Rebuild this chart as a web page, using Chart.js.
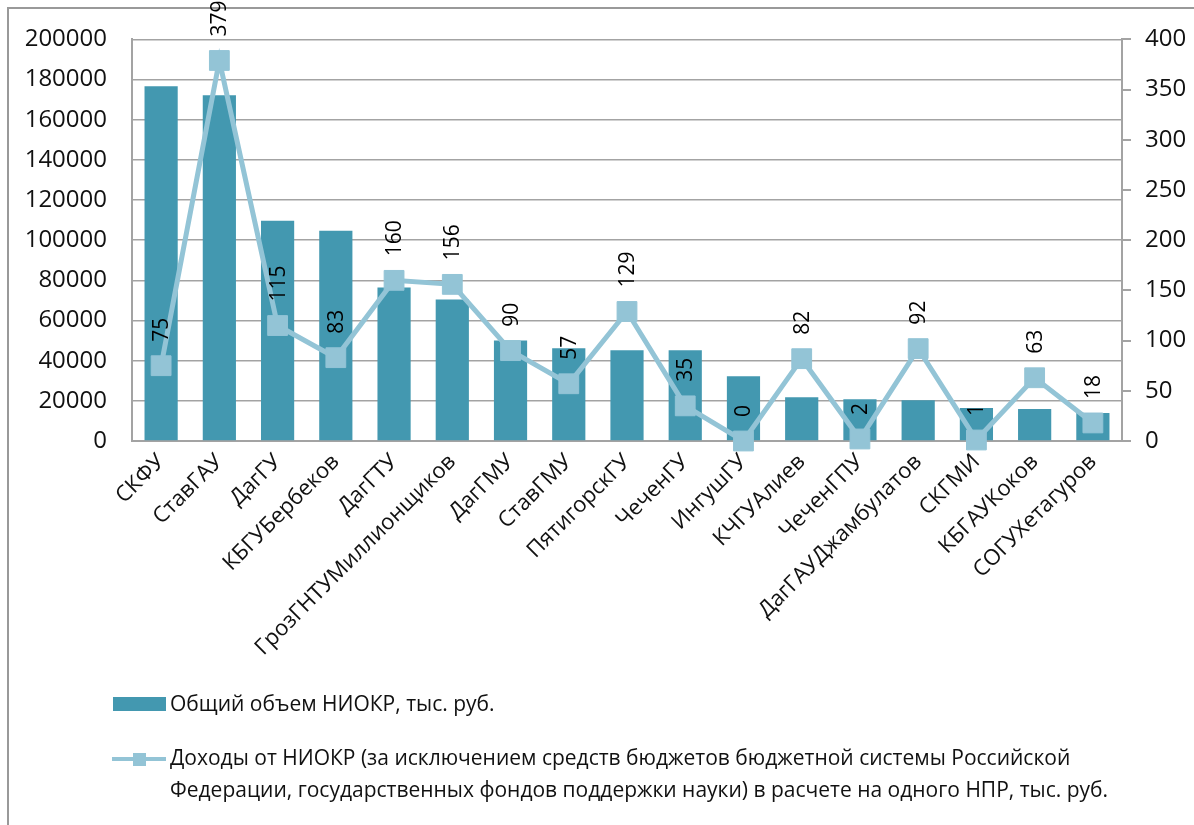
<!DOCTYPE html>
<html><head><meta charset="utf-8">
<script src="https://cdn.jsdelivr.net/npm/chart.js@4"></script>
<style>
html,body{margin:0;padding:0;background:#fff;}
#wrap{position:relative;width:1194px;height:825px;overflow:hidden;}
#frame{position:absolute;left:7px;top:7px;width:1200px;height:900px;border-left:2px solid #999;border-top:2px solid #999;}
#c{position:absolute;left:0;top:0;}
.lg{position:absolute;font-family:'Open Sans';font-size:21px;color:#111;white-space:nowrap;}
</style></head>
<body>
<div id="wrap">
  <div id="frame"></div>
  <canvas id="c" width="1194" height="825"></canvas>
  <div style="position:absolute;left:113px;top:697px;width:53px;height:14px;background:#4398b0;"></div>
  <div class="lg" style="left:170px;top:687px;line-height:32px;">Общий объем НИОКР, тыс. руб.</div>
  <div style="position:absolute;left:112px;top:757px;width:54px;height:4px;background:#93c4d6;"></div>
  <div style="position:absolute;left:133px;top:753px;width:13px;height:13px;background:#93c4d6;"></div>
  <div class="lg" style="left:170px;top:741px;line-height:32px;">Доходы от НИОКР (за исключением средств бюджетов бюджетной системы Российской<br>Федерации, государственных фондов поддержки науки) в расчете на одного НПР, тыс. руб.</div>
</div>
<script>
const categories = ['СКФУ','СтавГАУ','ДагГУ','КБГУБербеков','ДагГТУ','ГрозГНТУМиллионщиков','ДагГМУ','СтавГМУ','ПятигорскГУ','ЧеченГУ','ИнгушГУ','КЧГУАлиев','ЧеченГПУ','ДагГАУДжамбулатов','СКГМИ','КБГАУКоков','СОГУХетагуров'];
const niokrTotal = [176700,172200,109700,104700,76400,70500,50100,46200,45200,45200,32300,21800,20800,20300,16400,15900,13900];
const incomePerNpr = [75,379,115,83,160,156,90,57,129,35,0,82,2,92,1,63,18];
const seriesNames = ['Общий объем НИОКР, тыс. руб.','Доходы от НИОКР (за исключением средств бюджетов бюджетной системы Российской Федерации, государственных фондов поддержки науки) в расчете на одного НПР, тыс. руб.'];
const leftAxis = {min:0, max:200000, step:20000};
const rightAxis = {min:0, max:400, step:50};

const BAR = '#4398b0', LINE = '#93c4d6', GRID = '#a3a3a3';

const pointLabels = {
  id:'pointLabels',
  afterDatasetsDraw(chart){
    const meta = chart.getDatasetMeta(1);
    const ctx = chart.ctx;
    ctx.save();
    ctx.font = '21px "Open Sans"';
    ctx.fillStyle = '#000';
    ctx.textAlign = 'left';
    ctx.textBaseline = 'middle';
    meta.data.forEach((pt,i)=>{
      ctx.save();
      ctx.translate(pt.x+1, pt.y-24);
      ctx.rotate(-Math.PI/2);
      ctx.fillText(String(incomePerNpr[i]),0,0);
      ctx.restore();
    });
    ctx.restore();
  }
};

function build(){
  new Chart(document.getElementById('c'), {
    data:{
      labels:categories,
      datasets:[
        {type:'bar', label:seriesNames[0], data:niokrTotal, backgroundColor:BAR, yAxisID:'y', order:2,
         barPercentage:0.57, categoryPercentage:1},
        {type:'line', label:seriesNames[1], data:incomePerNpr, borderColor:LINE, backgroundColor:LINE, borderWidth:5,
         pointStyle:'rect', pointRadius:14, pointHoverRadius:14, pointBackgroundColor:LINE, pointBorderColor:LINE, pointBorderWidth:1,
         yAxisID:'y1', order:1, clip:false, tension:0}
      ]
    },
    options:{
      responsive:false, animation:false,
      layout:{padding:{top:38,left:0,right:0,bottom:0}},
      plugins:{legend:{display:false}, tooltip:{enabled:false}},
      scales:{
        x:{
          offset:true,
          grid:{display:false, drawTicks:false},
          border:{display:true, color:GRID, width:2},
          ticks:{font:{family:'Open Sans', size:22}, color:'#111', maxRotation:45, minRotation:45, autoSkip:false, padding:8},
          afterFit(s){ s.height = 825-441; }
        },
        y:{
          position:'left', min:leftAxis.min, max:leftAxis.max,
          grid:{color:GRID, lineWidth:1.5, drawTicks:false},
          border:{display:true, color:GRID, width:2},
          ticks:{stepSize:leftAxis.step, font:{family:'Open Sans', size:24}, color:'#111', padding:25, callback:v=>String(v)},
          afterFit(s){ s.width = 132; }
        },
        y1:{
          position:'right', min:rightAxis.min, max:rightAxis.max,
          grid:{drawOnChartArea:false, color:GRID, lineWidth:2, tickLength:9},
          border:{display:true, color:GRID, width:2},
          ticks:{stepSize:rightAxis.step, font:{family:'Open Sans', size:24}, color:'#111', padding:14, callback:v=>String(v)},
          afterFit(s){ s.width = 1194-1122; }
        }
      }
    },
    plugins:[pointLabels]
  });
}
Promise.all([document.fonts.load('24px "Open Sans"'), document.fonts.load('21px "Open Sans"')]).then(build, build);
</script>
</body></html>
